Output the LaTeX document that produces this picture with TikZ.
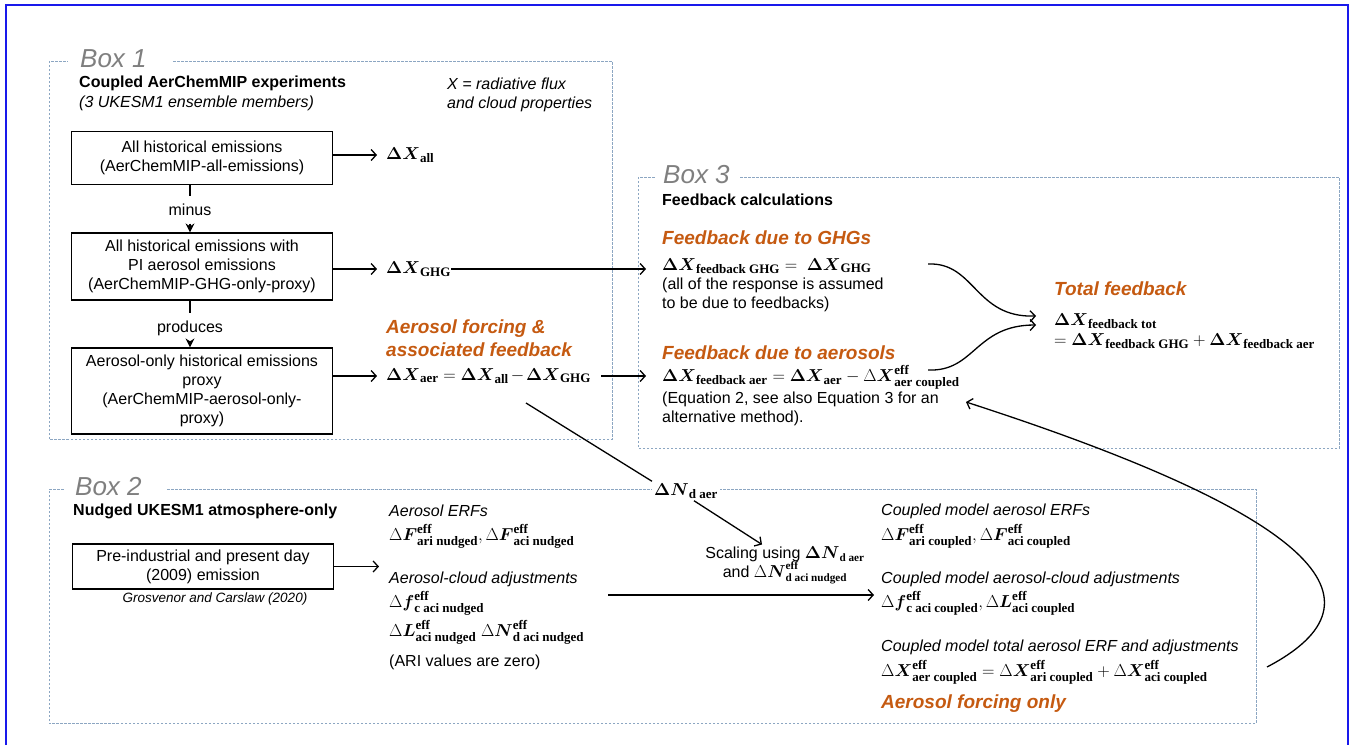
\documentclass[tikz,border=0pt]{standalone}
\usepackage{amsmath}
\usepackage[no-math]{fontspec}
\setmainfont{Liberation Sans}
\newfontfamily\subserif{Liberation Serif}
\usetikzlibrary{positioning,arrows.meta}
\DeclareMathSizes{17}{17}{13}{10}

\definecolor{dashblue}{RGB}{140,166,194}
\definecolor{fborange}{RGB}{197,90,17}
\definecolor{lblgray}{RGB}{127,127,127}
\definecolor{edgeblue}{RGB}{25,25,235}

\newcommand{\bsub}[1]{\text{\subserif\bfseries\upshape #1}}
\newcommand{\dX}[1]{\boldsymbol{\Delta X}_{\bsub{#1}}}
\newcommand{\dEff}[2]{\Delta\boldsymbol{#1}^{\bsub{eff}}_{\bsub{#2}}}

\tikzset{
  dashframe/.style={dashblue, line width=1, dash pattern=on 2.5pt off 1.5pt},
  boxlbl/.style={anchor=west, inner sep=0, text=lblgray, font=\fontsize{26}{30}\selectfont\itshape},
  expbox/.style={draw, line width=1.2, minimum width=261, align=center, inner sep=2},
  head/.style={anchor=west, inner sep=0, font=\fontsize{16}{19}\selectfont\bfseries},
  orangehead/.style={anchor=west, inner sep=0, align=left, text=fborange, font=\fontsize{19}{23}\selectfont\bfseries\itshape},
  note/.style={anchor=west, inner sep=0, align=left},
  itnote/.style={note, font=\fontsize{16}{19}\selectfont\itshape},
  eqn/.style={anchor=west, inner sep=0, font=\fontsize{17}{20}\selectfont},
  arr/.style={-{Straight Barb[length=5pt,width=11pt]}, line width=1.3},
  downarr/.style={-{Stealth[length=9pt,width=9pt]}, line width=1.6},
}

\begin{document}
\begin{tikzpicture}[x=1pt,y=-1pt,font=\fontsize{16}{19}\selectfont]
  \useasboundingbox (0,0) rectangle (1357,745);
  \draw[edgeblue, line width=1.5] (6,745) -- (6,5) -- (1348,5) -- (1348,745);

  % Box 1: coupled runs
  \draw[dashframe] (173,61) -- (612,61) -- (612,439) -- (49,439) -- (49,61) -- (68,61);
  \node[boxlbl] (box1) at (80,59) {Box 1};
  \node[head] (cpltitle) at (79,83) {Coupled AerChemMIP experiments};
  \node[itnote] (cplsub) at (79,103) {(3 UKESM1 ensemble members)};
  \node[itnote] (xdef) at (447,95) {X = radiative flux\\and cloud properties};

  \node[expbox, minimum height=53] (expall) at (202,158) {All historical emissions\\(AerChemMIP-all-emissions)};
  \node[expbox, minimum height=67] (expghg) at (202,266.5) {All historical emissions with\\PI aerosol emissions\\(AerChemMIP-GHG-only-proxy)};
  \node[expbox, minimum height=86] (expaer) at (202,391) {Aerosol-only historical emissions\\proxy\\(AerChemMIP-aerosol-only-\\proxy)};

  \node[inner ysep=7.5] (minuslbl) at (190,210) {minus};
  \node[inner ysep=7.5] (prodlbl) at (190,328) {produces};
  \draw[line width=1.6] (expall.south -| minuslbl) -- (minuslbl.north);
  \draw[downarr] (minuslbl.south) -- (expghg.north -| minuslbl);
  \draw[line width=1.6] (expghg.south -| prodlbl) -- (prodlbl.north);
  \draw[downarr] (prodlbl.south) -- (expaer.north -| prodlbl);

  \node[eqn] (dxall) at (386,155) {$\dX{all}$};
  \node[eqn] (dxghg) at (386,269) {$\dX{GHG}$};
  \node[orangehead] (aerhead) at (386,338.5) {Aerosol forcing \&\\associated feedback};
  \node[eqn] (dxaer) at (386,376) {$\dX{aer} = \dX{all}\mkern2mu{-}\mkern2mu\dX{GHG}$};
  \draw[arr] (dxall.west -| expall.east) -- ([xshift=-9]dxall.west);
  \draw[arr] (dxghg.west -| expghg.east) -- ([xshift=-9]dxghg.west);
  \draw[arr] (dxaer.west -| expaer.east) -- ([xshift=-9]dxaer.west);

  % Box 3: feedbacks
  \draw[dashframe] (740,177) -- (1339,177) -- (1339,448) -- (638,448) -- (638,177) -- (656,177);
  \node[boxlbl] (box3) at (663,175) {Box 3};
  \node[head] (fbtitle) at (662,200) {Feedback calculations};
  \node[orangehead] (fbghghead) at (662,238) {Feedback due to GHGs};
  \node[eqn] (fbghg) at (662,266) {$\dX{feedback GHG} = \ \dX{GHG}$};
  \node[note] (fbghgnote) at (662,294.5) {(all of the response is assumed\\to be due to feedbacks)};
  \node[orangehead] (fbaerhead) at (662,353) {Feedback due to aerosols};
  \node[eqn] (fbaer) at (662,377) {$\dX{feedback aer} = \dX{aer} - \dEff{X}{aer coupled}$};
  \node[note] (fbaernote) at (662,409) {(Equation 2, see also Equation 3 for an\\alternative method).};
  \node[orangehead] (tothead) at (1054,289) {Total feedback};
  \node[eqn, align=left] (toteq) at (1054,331) {$\dX{feedback tot}$\\$= \dX{feedback GHG} + \dX{feedback aer}$};

  \draw[arr] (dxghg.east) -- ([xshift=-16]fbghg.west |- dxghg.east);
  \draw[arr] ([xshift=10]dxaer.east) -- ([xshift=-16]fbaer.west |- dxaer.east);

  \coordinate (ghgout) at (928,264);
  \coordinate (aerout) at (928,370);
  \coordinate (totin1) at (1036,316);
  \coordinate (totin2) at (1036,325);
  \draw[arr] (ghgout) .. controls (975,262) and (975,318) .. (totin1);
  \draw[arr] (aerout) .. controls (975,372) and (975,325) .. (totin2);

  % Box 2: nudged runs
  \draw[dashframe] (167,489) -- (1256,489) -- (1256,723) -- (49,723) -- (49,489) -- (65,489);
  \node[boxlbl] (box2) at (75,487) {Box 2};
  \node[head] (nudtitle) at (73,511) {Nudged UKESM1 atmosphere-only};
  \node[expbox, minimum height=45] (nudbox) at (203,566.5) {Pre-industrial and present day\\(2009) emission};
  \node[font=\fontsize{13.5}{16}\selectfont\itshape, inner sep=0] (grosv) at (215,599) {Grosvenor and Carslaw (2020)};

  \node[itnote] (erfhead) at (389,511) {Aerosol ERFs};
  \node[eqn] (erfeq) at (389,536) {$\dEff{F}{ari nudged}, \dEff{F}{aci nudged}$};
  \node[itnote] (acihead) at (389,579) {Aerosol-cloud adjustments};
  \node[eqn] (acieqa) at (389,603) {$\dEff{f}{c aci nudged}$};
  \node[eqn] (acieqb) at (389,632) {$\dEff{L}{aci nudged}\ \dEff{N}{d aci nudged}$};
  \node[note] (arinote) at (389,662) {(ARI values are zero)};
  \draw[arr] (nudbox.east) -- ([xshift=-10]erfhead.west |- nudbox.east);

  \node[fill=white, inner sep=2, font=\fontsize{17}{20}\selectfont] (ndaer) at (686,491) {$\boldsymbol{\Delta N}_{\bsub{d aer}}$};
  \coordinate (aerdiag) at (526,403);
  \draw[line width=1.3] (aerdiag) -- (ndaer.north west);
  \node[align=center, inner sep=0] (scale) at (785,565.5) {Scaling using $\boldsymbol{\Delta N}_{\bsub{d aer}}$\\and $\dEff{N}{d aci nudged}$};
  \draw[arr] ([xshift=8]ndaer.south) -- ([xshift=-23,yshift=2]scale.north);

  \node[itnote] (cplerfhead) at (881,511) {Coupled model aerosol ERFs};
  \node[eqn] (cplerfeq) at (881,536) {$\dEff{F}{ari coupled}, \dEff{F}{aci coupled}$};
  \node[itnote] (cplacihead) at (881,579) {Coupled model aerosol-cloud adjustments};
  \node[eqn] (cplacieq) at (881,603) {$\dEff{f}{c aci coupled}, \dEff{L}{aci coupled}$};
  \node[itnote] (cpltothead) at (881,647) {Coupled model total aerosol ERF and adjustments};
  \node[eqn] (cpltoteq) at (881,672) {$\dEff{X}{aer coupled} = \dEff{X}{ari coupled} + \dEff{X}{aci coupled}$};
  \node[orangehead] (cplonly) at (881,704) {Aerosol forcing only};

  \coordinate (adjout) at (608,595);
  \draw[arr] (adjout) -- ([xshift=-7]cplacieq.west |- adjout);

  \coordinate (cplout) at (1267,667);
  \coordinate (fbin) at (966,402);
  \draw[arr] (cplout) .. controls (1395,600) and (1315,515) .. (fbin);
\end{tikzpicture}
\end{document}
